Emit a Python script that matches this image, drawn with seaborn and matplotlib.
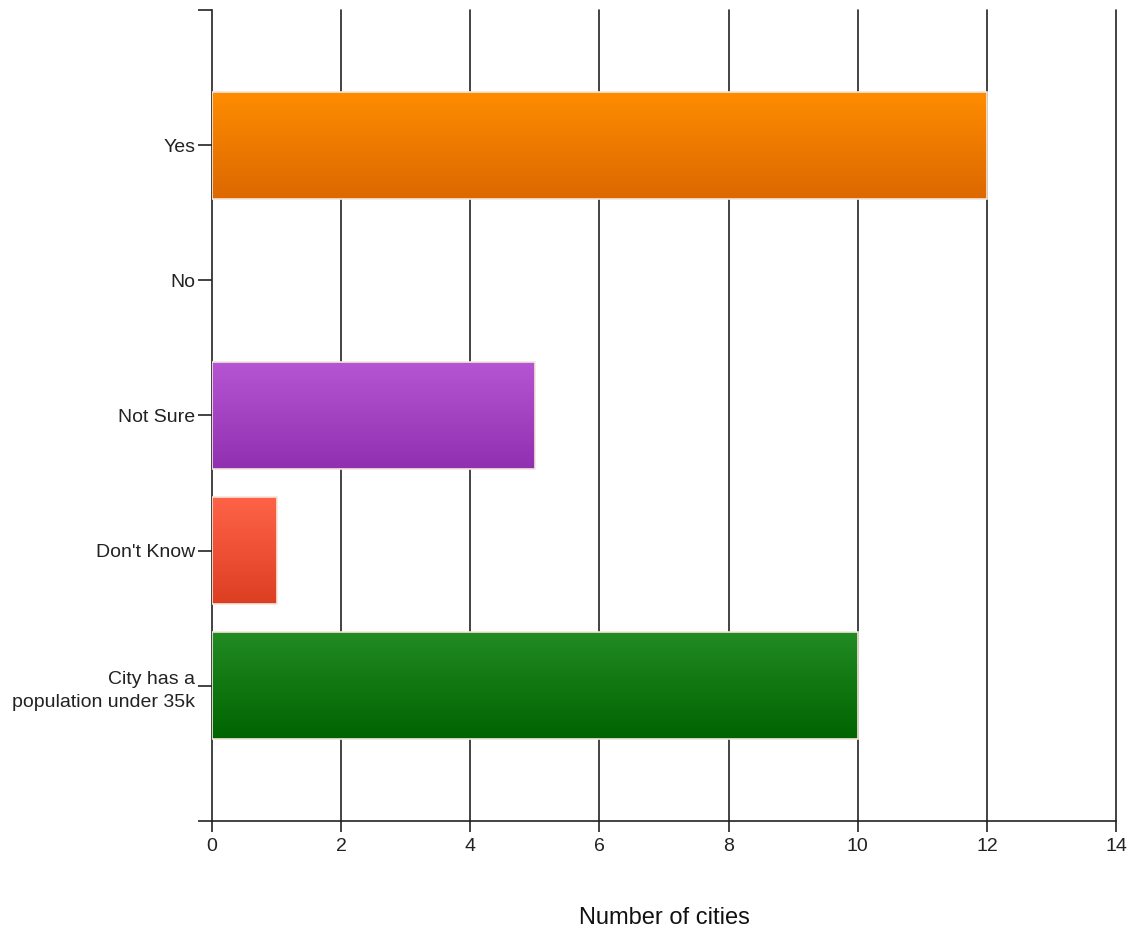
import numpy as np
import pandas as pd
import matplotlib
matplotlib.use("Agg")
import matplotlib.pyplot as plt
from matplotlib.colors import LinearSegmentedColormap
import seaborn as sns

# data
categories = ["Yes", "No", "Not Sure", "Don't Know", "City has a\npopulation under 35k"]
counts = [12, 0, 5, 1, 10]
top_colors = ["#ff8c00", "#ffffff", "#b655d4", "#ff6347", "#228b22"]
bottom_colors = ["#dc6800", "#ffffff", "#9030b0", "#dc3e22", "#006400"]
x_ticks = [0, 2, 4, 6, 8, 10, 12, 14]

sns.set_style("ticks")
plt.rcParams['font.family'] = ['Liberation Sans Narrow', 'Liberation Sans', 'DejaVu Sans']

df = pd.DataFrame({"answer": categories, "cities": counts})

fig = plt.figure(figsize=(11.35, 9.32), dpi=100)
ax = fig.add_axes([0.1868, 0.1191, 0.9833 - 0.1868, 0.9893 - 0.1191])

sns.barplot(data=df, y="answer", x="cities", orient="h", ax=ax, width=0.79,
            color="white", edgecolor="none", zorder=3)

# gradient fill for each bar, clipped to its patch
for bar, c1, c2 in zip(ax.patches, top_colors, bottom_colors):
    w = bar.get_width()
    if w <= 0:
        continue
    x0, y0 = bar.get_x(), bar.get_y()
    h = bar.get_height()
    cmap = LinearSegmentedColormap.from_list("g", [c1, c2])
    grad = np.linspace(0, 1, 256).reshape(-1, 1)
    im = ax.imshow(grad, cmap=cmap, aspect="auto", extent=(x0, x0 + w, y0 + h, y0),
                   origin="upper", zorder=4, interpolation="bicubic")
    im.set_clip_path(bar)
    bar.set_edgecolor("#f4e6dc")
    bar.set_linewidth(1.2)
    bar.set_zorder(5)
    bar.set_facecolor("none")

ax.set_xlim(0, 14)
ax.set_ylim(5, -1)
ax.set_xticks(x_ticks)
ax.set_xticklabels([str(t) for t in x_ticks])
ax.set_yticks(list(range(-1, 6)))
ax.set_yticklabels([""] + categories + [""])

for t in x_ticks[1:]:
    ax.axvline(t, color="#222222", lw=1.2, zorder=2, clip_on=False)

for side in ["top", "right"]:
    ax.spines[side].set_visible(False)
for side in ["left", "bottom"]:
    ax.spines[side].set_color("#222222")
    ax.spines[side].set_linewidth(1.2)

ax.tick_params(axis="y", left=True, direction="out", length=10, width=1.2, color="#222222",
               labelsize=14, pad=2, labelcolor="#222222")
ax.tick_params(axis="x", bottom=True, direction="out", length=8, width=1.2, color="#222222",
               labelsize=14, pad=4, labelcolor="#222222")
for lab in ax.get_yticklabels():
    lab.set_horizontalalignment("right")
    lab.set_multialignment("right")
    lab.set_linespacing(1.5)

ax.set_ylabel("")
ax.set_xlabel("Number of cities", fontsize=17, labelpad=38, color="#111111")

fig.savefig("out.png", dpi=100, facecolor="white")
